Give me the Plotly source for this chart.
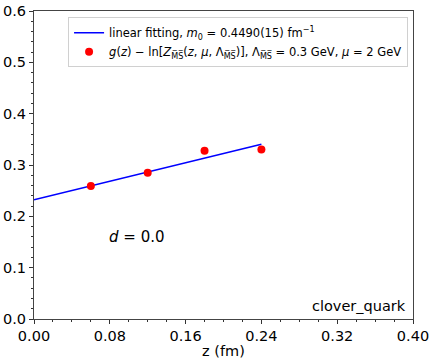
import plotly.graph_objects as go

# data
z_points = [0.06, 0.12, 0.18, 0.24]
y_points = [0.259, 0.285, 0.328, 0.330]
y_errors = [0.002, 0.002, 0.002, 0.002]
z_fit = [0.0, 0.24]
y_fit = [0.2325, 0.3403]
x_ticks = [0.0, 0.08, 0.16, 0.24, 0.32, 0.40]
y_ticks = [0.0, 0.1, 0.2, 0.3, 0.4, 0.5, 0.6]

FONT = "DejaVu Sans"
MS = "M\u0305S\u0305"

fig = go.Figure()
fig.add_trace(go.Scatter(
    x=z_fit, y=y_fit, mode="lines",
    line=dict(color="#0000ff", width=1.5),
    name="linear fitting, <i>m</i><sub>0</sub> = 0.4490(15) fm<sup>\u22121</sup>",
))
fig.add_trace(go.Scatter(
    x=z_points, y=y_points, mode="markers",
    marker=dict(color="#ff0000", size=8),
    error_y=dict(type="data", array=y_errors, color="#ff0000", thickness=1.2, width=2),
    name=f"<i>g</i>(<i>z</i>) \u2212 ln[<i>Z</i><sub>{MS}</sub>(<i>z</i>, <i>\u03bc</i>, \u039b<sub>{MS}</sub>)], \u039b<sub>{MS}</sub> = 0.3 GeV, <i>\u03bc</i> = 2 GeV",
))

fig.add_annotation(x=0.109, y=0.160, text="<i>d</i> = 0.0", showarrow=False,
                   font=dict(family=FONT, size=15, color="black"))
fig.add_annotation(x=0.986, y=0.01, xref="paper", yref="paper", xanchor="right", yanchor="bottom",
                   text="clover_quark", showarrow=False,
                   font=dict(family=FONT, size=14.5, color="black"))

axis_common = dict(
    showgrid=False, zeroline=False, showline=True, linecolor="#444444", linewidth=1,
    mirror=True, ticks="outside", ticklen=4, tickwidth=1, tickcolor="#333333",
    tickfont=dict(family=FONT, size=14.5, color="black"), automargin=False,
)
fig.update_xaxes(range=[0, 0.40], tickvals=x_ticks, ticktext=[f"{v:.2f}" for v in x_ticks],
                 minor=dict(dtick=0.02, ticks="outside", ticklen=2, tickcolor="#333333"),
                 title=dict(text="z (fm)", font=dict(family=FONT, size=14.5, color="black"), standoff=2),
                 **axis_common)
fig.update_yaxes(range=[0, 0.6], tickvals=y_ticks, ticktext=[f"{v:.1f}" for v in y_ticks],
                 minor=dict(dtick=0.02, ticks="outside", ticklen=2, tickcolor="#333333"),
                 **axis_common)

fig.update_layout(
    width=436, height=362,
    margin=dict(l=34, r=23, t=11, b=43),
    plot_bgcolor="white", paper_bgcolor="white",
    font=dict(family=FONT, color="black"),
    showlegend=True,
    legend=dict(x=0.987, y=0.98, xanchor="right", yanchor="top",
                bgcolor="white", bordercolor="#d0d0d0", borderwidth=1,
                font=dict(family=FONT, size=11.5, color="black"),
                itemwidth=30, tracegroupgap=0),
)
fig.write_html("out.html", config={"displayModeBar": False},
               post_script="document.body.style.margin='0';document.body.style.overflow='hidden';")
